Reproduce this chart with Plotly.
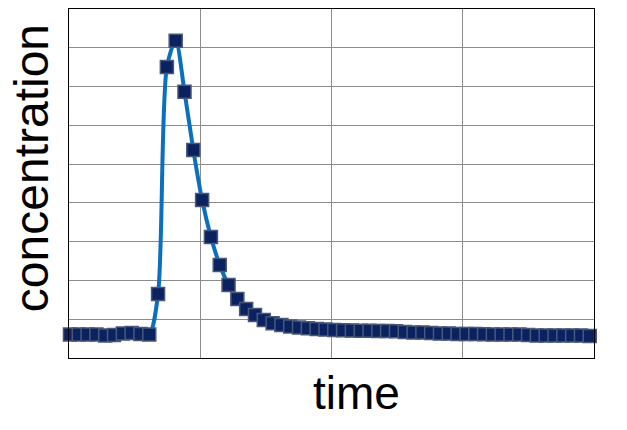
import plotly.graph_objects as go

# sample index (time) and measured concentration (in gridline units)
time = [0, 1, 2, 3, 4, 5, 6, 7, 8, 9,
        10, 11, 12, 13, 14, 15, 16, 17, 18, 19,
        20, 21, 22, 23, 24, 25, 26, 27, 28, 29,
        30, 31, 32, 33, 34, 35, 36, 37, 38, 39,
        40, 41, 42, 43, 44, 45, 46, 47, 48, 49,
        50, 51, 52, 53, 54, 55, 56, 57, 58, 59]

concentration = [0.606, 0.606, 0.606, 0.606, 0.580, 0.593, 0.632, 0.645, 0.619, 0.606,
                 1.650, 7.504, 8.182, 6.867, 5.364, 4.074, 3.120, 2.398, 1.882, 1.521,
                 1.264, 1.109, 0.980, 0.895, 0.851, 0.812, 0.786, 0.766, 0.748, 0.735,
                 0.722, 0.714, 0.709, 0.704, 0.704, 0.696, 0.696, 0.689, 0.670, 0.658,
                 0.658, 0.645, 0.632, 0.632, 0.619, 0.619, 0.619, 0.611, 0.606, 0.606,
                 0.606, 0.606, 0.593, 0.580, 0.580, 0.580, 0.580, 0.580, 0.580, 0.567]

x_title = "time"
y_title = "concentration"

FONT = "Liberation Sans, Arial, sans-serif"
xr = [-0.11, 59.48]
yr = [0, 9]

fig = go.Figure()
fig.add_trace(go.Scatter(
    x=time, y=concentration,
    mode="lines+markers",
    line=dict(color="#0A6FBF", width=4, shape="spline", smoothing=0.8),
    marker=dict(symbol="square", size=13, color="#0B2261",
                line=dict(color="#4A5878", width=1.5)),
    cliponaxis=False,
    showlegend=False,
))

# page body has an 8px default margin, so the figure is sized to fit inside it
fig.update_layout(
    width=619, height=422,
    margin=dict(l=61, r=33, t=1, b=72),
    paper_bgcolor="white", plot_bgcolor="white",
    font=dict(family=FONT, color="black"),
    xaxis=dict(range=xr, tick0=xr[0], dtick=(xr[1] - xr[0]) / 4,
               showgrid=True, gridcolor="#8C8C8C", gridwidth=1,
               showticklabels=False, ticks="", zeroline=False,
               showline=True, linecolor="black", linewidth=1, mirror=True),
    yaxis=dict(range=yr, dtick=1,
               showgrid=True, gridcolor="#8C8C8C", gridwidth=1,
               showticklabels=False, ticks="", zeroline=False,
               showline=True, linecolor="black", linewidth=1, mirror=True),
    annotations=[
        dict(text=x_title, xref="paper", yref="paper", x=0.5467, y=-0.1003,
             xanchor="center", yanchor="middle", showarrow=False,
             font=dict(family=FONT, size=46, color="black")),
        dict(text=y_title, xref="paper", yref="paper", x=-0.0724, y=0.544,
             xanchor="center", yanchor="middle", showarrow=False, textangle=-90,
             font=dict(family=FONT, size=48, color="black")),
    ],
)

fig.write_html("out.html")
